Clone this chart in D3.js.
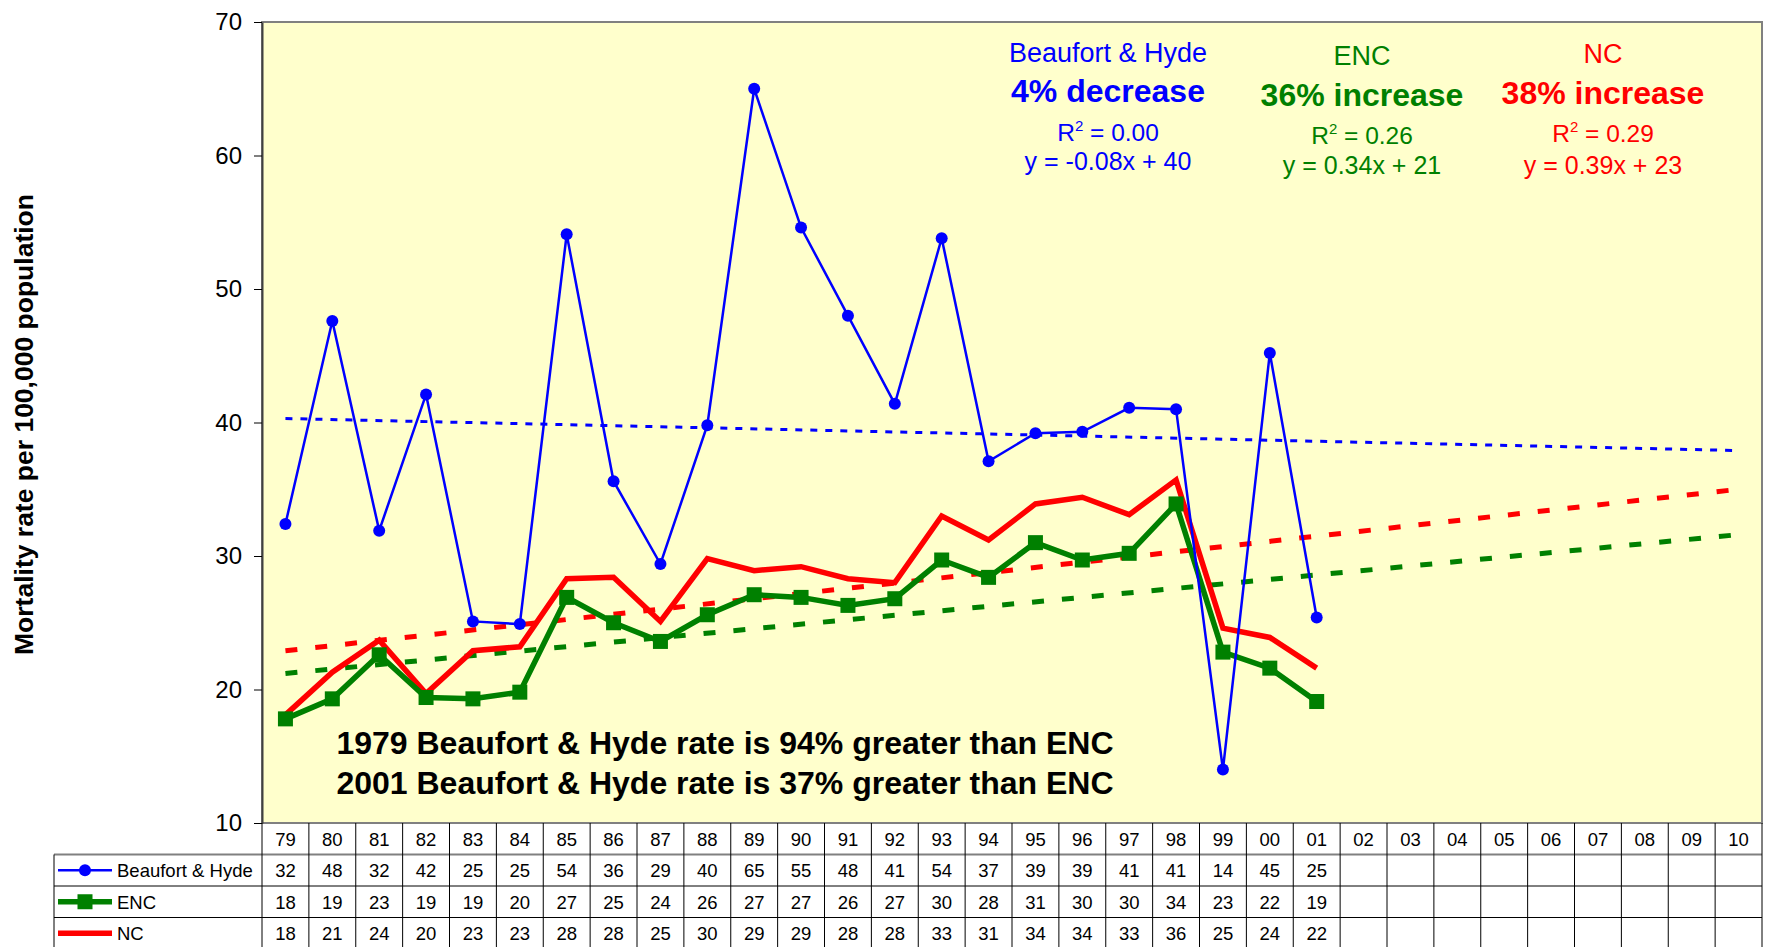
<!DOCTYPE html>
<html>
<head>
<meta charset="utf-8">
<script src="https://cdn.jsdelivr.net/npm/d3@7"></script>
<style>
  body { margin: 0; background: #fff; }
  svg { display: block; font-family: "Liberation Sans", Arial, sans-serif; }
</style>
</head>
<body>
<svg></svg>
<script>
// year labels along the bottom (1979 .. 2010)
let years = ["79","80","81","82","83","84","85","86","87","88","89","90","91","92","93","94",
             "95","96","97","98","99","00","01","02","03","04","05","06","07","08","09","10"]

// mortality rates (null = no data yet)
let beaufortHyde = [32.4, 47.6, 31.9, 42.1, 25.1, 24.9, 54.1, 35.6, 29.4, 39.8, 65.0, 54.6, 48.0, 41.4,
                    53.8, 37.1, 39.2, 39.3, 41.1, 41.0, 14.0, 45.2, 25.4]
let enc = [17.8, 19.3, 22.6, 19.4, 19.3, 19.8, 26.9, 25.0, 23.6, 25.6, 27.1, 26.9, 26.3, 26.8,
           29.7, 28.4, 31.0, 29.7, 30.2, 33.9, 22.8, 21.6, 19.1]
let nc = [18.1, 21.3, 23.7, 19.7, 22.9, 23.2, 28.3, 28.4, 25.1, 29.8, 28.9, 29.2, 28.3, 28.0,
          33.0, 31.2, 33.9, 34.4, 33.1, 35.7, 24.6, 23.9, 21.6]

// linear trend lines: value at 1979 and at 2010
let bhTrend = [40.3, 37.9]
let encTrend = [21.2, 31.6]
let ncTrend = [22.9, 35.0]

let yTicks = [10, 20, 30, 40, 50, 60, 70]

let width = 1765
let height = 947
let plotLeft = 262
let plotRight = 1762
let plotTop = 22
let plotBottom = 823
let rowH = 31.5
let legendLeft = 54

let blue = "#0000ff"
let green = "#008000"
let red = "#ff0000"

let svg = d3.select("svg").attr("width", width).attr("height", height)

let xScale = d3.scaleBand().domain(years).range([plotLeft, plotRight])
let yScale = d3.scaleLinear().domain([10, 70]).range([plotBottom, plotTop])
let cx = (i) => xScale(years[i]) + xScale.bandwidth() / 2

// plot background
svg.append("rect")
   .attr("x", plotLeft).attr("y", plotTop)
   .attr("width", plotRight - plotLeft).attr("height", plotBottom - plotTop)
   .style("fill", "#ffffcc")
   .style("stroke", "#808080")
   .style("stroke-width", 2)

// y axis
let yAxis = d3.axisLeft(yScale).tickValues(yTicks).tickSize(8).tickPadding(12).tickSizeOuter(0)
let yAxisG = svg.append("g")
   .attr("transform", "translate(" + plotLeft + ",0)")
   .call(yAxis)
yAxisG.select(".domain").style("stroke", "#404040").style("stroke-width", 2)
yAxisG.selectAll(".tick line").style("stroke", "#000")
yAxisG.selectAll(".tick text")
   .style("font-size", "24px")
   .style("font-family", "Liberation Sans, Arial, sans-serif")
   .style("fill", "#000")

svg.append("text")
   .attr("transform", "translate(33," + ((plotTop + plotBottom) / 2 + 2) + ") rotate(-90)")
   .attr("text-anchor", "middle")
   .style("font-size", "26.5px")
   .style("font-weight", "bold")
   .text("Mortality rate per 100,000 population")

// trend lines
let drawTrend = (vals, color, w, dash) => {
    svg.append("line")
       .attr("x1", cx(0)).attr("y1", yScale(vals[0]))
       .attr("x2", cx(years.length - 1)).attr("y2", yScale(vals[1]))
       .style("stroke", color)
       .style("stroke-width", w)
       .style("stroke-dasharray", dash)
}
drawTrend(bhTrend, blue, 3, "7,8")
drawTrend(ncTrend, red, 5, "12,18")
drawTrend(encTrend, green, 5, "12,18")

let line = d3.line()
   .defined((d) => d != null)
   .x((d, i) => cx(i))
   .y((d) => yScale(d))

// NC
svg.append("path").datum(nc).attr("d", line)
   .style("fill", "none").style("stroke", red).style("stroke-width", 5.5)

// ENC
svg.append("path").datum(enc).attr("d", line)
   .style("fill", "none").style("stroke", green).style("stroke-width", 5.5)
svg.selectAll(".enc-pt").data(enc).enter().append("rect")
   .attr("class", "enc-pt")
   .attr("x", (d, i) => cx(i) - 7.5).attr("y", (d) => yScale(d) - 7.5)
   .attr("width", 15).attr("height", 15)
   .style("fill", green)

// Beaufort & Hyde
svg.append("path").datum(beaufortHyde).attr("d", line)
   .style("fill", "none").style("stroke", blue).style("stroke-width", 2.5)
svg.selectAll(".bh-pt").data(beaufortHyde).enter().append("circle")
   .attr("class", "bh-pt")
   .attr("cx", (d, i) => cx(i)).attr("cy", (d) => yScale(d))
   .attr("r", 6)
   .style("fill", blue)

// annotations
let note = (x, y, txt, color, size, bold) => {
    return svg.append("text")
       .attr("x", x).attr("y", y)
       .attr("text-anchor", "middle")
       .style("fill", color)
       .style("font-size", size + "px")
       .style("font-weight", bold ? "bold" : "normal")
       .text(txt)
}
let r2 = (x, y, val, color) => {
    let t = svg.append("text").attr("x", x).attr("y", y).attr("text-anchor", "middle")
       .style("fill", color).style("font-size", "24.5px")
    t.append("tspan").text("R")
    t.append("tspan").attr("dy", -10).style("font-size", "15px").text("2")
    t.append("tspan").attr("dy", 10).text(" = " + val)
}

note(1108, 62, "Beaufort & Hyde", blue, 27, false)
note(1108, 102, "4% decrease", blue, 32, true)
r2(1108, 141, "0.00", blue)
note(1108, 170, "y = -0.08x + 40", blue, 25, false)

note(1362, 65, "ENC", green, 27, false)
note(1362, 106, "36% increase", green, 32, true)
r2(1362, 144, "0.26", green)
note(1362, 174, "y = 0.34x + 21", green, 25, false)

note(1603, 63, "NC", red, 27, false)
note(1603, 104, "38% increase", red, 32, true)
r2(1603, 142, "0.29", red)
note(1603, 174, "y = 0.39x + 23", red, 25, false)

note(725, 754, "1979 Beaufort & Hyde rate is 94% greater than ENC", "#000", 32, true)
note(725, 794, "2001 Beaufort & Hyde rate is 37% greater than ENC", "#000", 32, true)

// data table under the chart
let table = svg.append("g")
let rows = [
    { name: "Beaufort & Hyde", vals: beaufortHyde },
    { name: "ENC", vals: enc },
    { name: "NC", vals: nc }
]

// header row with year labels
table.selectAll(".yr").data(years).enter().append("text")
   .attr("x", (d) => xScale(d) + xScale.bandwidth() / 2)
   .attr("y", plotBottom + rowH / 2 + 7)
   .attr("text-anchor", "middle")
   .style("font-size", "18.5px")
   .text((d) => d)

rows.forEach((row, r) => {
    let y0 = plotBottom + rowH * (r + 1)
    table.selectAll(".v" + r).data(row.vals).enter().append("text")
       .attr("x", (d, i) => cx(i))
       .attr("y", y0 + rowH / 2 + 7)
       .attr("text-anchor", "middle")
       .style("font-size", "18.5px")
       .text((d) => d3.format(".0f")(d))
    table.append("text")
       .attr("x", 117).attr("y", y0 + rowH / 2 + 7)
       .style("font-size", "18.5px")
       .text(row.name)
    // horizontal line on top of row
    table.append("line")
       .attr("x1", legendLeft).attr("x2", plotRight)
       .attr("y1", y0).attr("y2", y0)
       .style("stroke", r == 0 ? "#808080" : "#000")
       .style("stroke-width", r == 0 ? 2 : 1)
})

// vertical grid lines of table
let bounds = years.map((d) => xScale(d)).concat([plotRight])
table.selectAll(".vl").data(bounds).enter().append("line")
   .attr("x1", (d) => d).attr("x2", (d) => d)
   .attr("y1", plotBottom).attr("y2", height)
   .style("stroke", "#000").style("stroke-width", 1)
table.append("line")
   .attr("x1", legendLeft).attr("x2", legendLeft)
   .attr("y1", plotBottom + rowH).attr("y2", height)
   .style("stroke", "#000").style("stroke-width", 1)

// legend keys
let keyY = (r) => plotBottom + rowH * (r + 1) + rowH / 2
table.append("line").attr("x1", 58).attr("x2", 112).attr("y1", keyY(0)).attr("y2", keyY(0))
   .style("stroke", blue).style("stroke-width", 2.5)
table.append("circle").attr("cx", 85).attr("cy", keyY(0)).attr("r", 6).style("fill", blue)
table.append("line").attr("x1", 58).attr("x2", 112).attr("y1", keyY(1)).attr("y2", keyY(1))
   .style("stroke", green).style("stroke-width", 5.5)
table.append("rect").attr("x", 77.5).attr("y", keyY(1) - 7.5).attr("width", 15).attr("height", 15)
   .style("fill", green)
table.append("line").attr("x1", 58).attr("x2", 112).attr("y1", keyY(2)).attr("y2", keyY(2))
   .style("stroke", red).style("stroke-width", 5.5)
</script>
</body>
</html>
